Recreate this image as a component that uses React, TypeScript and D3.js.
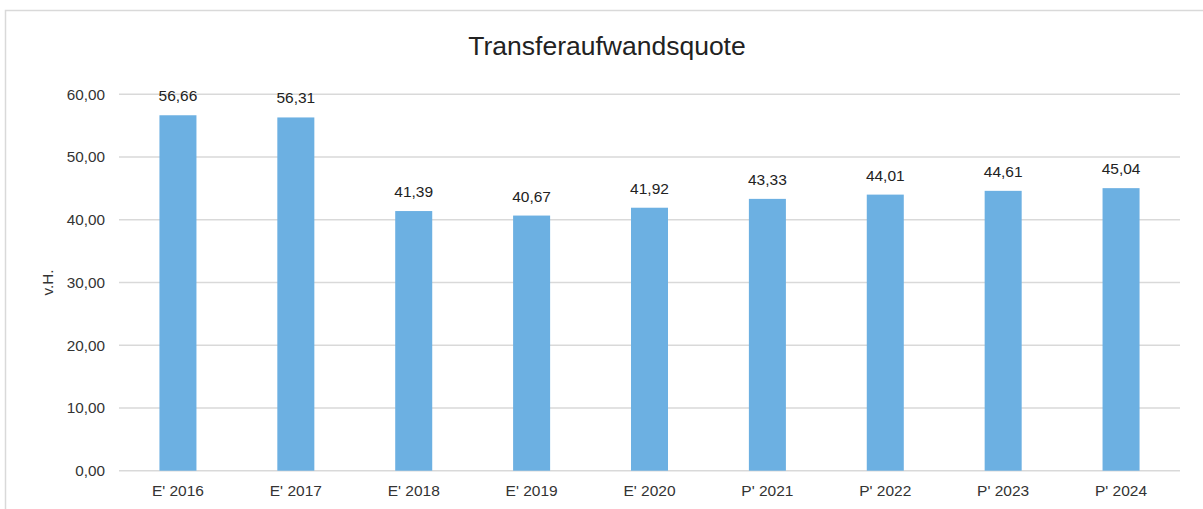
import React from "react";
import * as d3 from "d3";

const categories = ["E' 2016", "E' 2017", "E' 2018", "E' 2019", "E' 2020", "P' 2021", "P' 2022", "P' 2023", "P' 2024"];
const values = [56.66, 56.31, 41.39, 40.67, 41.92, 43.33, 44.01, 44.61, 45.04];
const yTicks = [0, 10, 20, 30, 40, 50, 60];
const title = "Transferaufwandsquote";
const yLabel = "v.H.";

const W = 1203;
const H = 509;
const fmt = (v: number) => v.toFixed(2).replace(".", ",");

export default function App() {
  const x = d3.scaleBand<string>().domain(categories).range([119, 1180]).paddingInner(0.686).paddingOuter(0.343);
  const y = d3.scaleLinear().domain([0, 60]).range([470.7, 94.3]);
  const font = "'Liberation Sans', Arial, sans-serif";
  const textColor = "#333";
  return (
    <svg width={W} height={H} style={{ position: "absolute", left: 0, top: 0, background: "#fff" }} fontFamily={font}>
      <rect x={5.5} y={10.5} width={W + 10} height={H + 10} fill="#fff" stroke="#d9d9d9" strokeWidth={1.5} />
      <text x={607} y={55} textAnchor="middle" fontSize={26.5} fill="#222">{title}</text>
      {yTicks.map((t) => (
        <g key={t}>
          <line x1={119} x2={1180} y1={y(t)} y2={y(t)} stroke="#d9d9d9" strokeWidth={1.5} />
          <text x={105} y={y(t)} dy="0.35em" textAnchor="end" fontSize={15.3} fill={textColor}>{fmt(t)}</text>
        </g>
      ))}
      <text transform={`translate(53,${(y(0) + y(60)) / 2}) rotate(-90)`} textAnchor="middle" fontSize={15.3} fill={textColor}>{yLabel}</text>
      {categories.map((c, i) => (
        <g key={c}>
          <rect x={x(c)} y={y(values[i])} width={x.bandwidth()} height={y(0) - y(values[i])} fill="#6cb0e2" />
          <text x={(x(c) as number) + x.bandwidth() / 2} y={y(values[i]) - 14} textAnchor="middle" fontSize={15.5} fill="#222">{fmt(values[i])}</text>
          <text x={(x(c) as number) + x.bandwidth() / 2} y={496} textAnchor="middle" fontSize={15.5} fill={textColor}>{c}</text>
        </g>
      ))}
    </svg>
  );
}
